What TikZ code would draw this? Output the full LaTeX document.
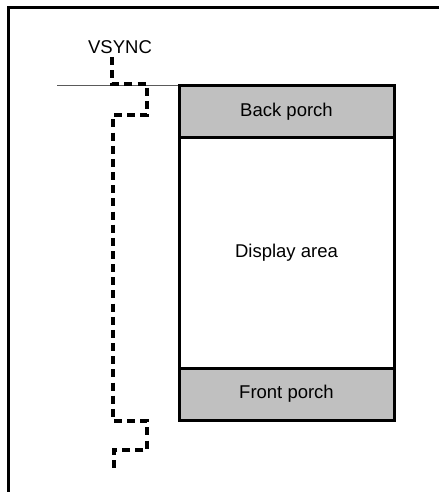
\documentclass[tikz,border=0pt]{standalone}
\usepackage{fontspec}
\setmainfont{Liberation Sans}
\usetikzlibrary{positioning,calc}
\definecolor{ink}{RGB}{0,0,0}
\definecolor{porch}{RGB}{192,192,192}
\definecolor{soft}{RGB}{90,90,90}

\begin{document}
\begin{tikzpicture}[
    x=1pt,y=-1pt,
    text=ink,
    every node/.style={font=\fontsize{18.5}{21}\selectfont},
    band/.style={
        draw=ink,
        line width=3pt,
        minimum width=215pt,
        inner sep=0pt,
        outer sep=0pt,
        align=center
    },
    porchbox/.style={band, fill=porch},
    sig/.style={draw=ink, line width=3.2pt, dash pattern=on 8pt off 5.15pt}
]
\useasboundingbox (0,0) rectangle (439,492);

% Frame
\draw[ink, line width=3pt] (8,492) -- (8,8) -- (439,8);

% Frame top line of the field
\draw[soft, line width=1pt] (57,86) -- (179,86);

% Vertical timing bands
\node[porchbox, minimum height=51pt, anchor=north west] (back) at (179,86) {Back porch};
\node[band, minimum height=231pt, below=0pt of back] (disp) {Display area};
\node[porchbox, minimum height=52pt, below=0pt of disp] (front) {Front porch};

% VSYNC signal
\node[anchor=south] (vsync) at (120,57) {VSYNC};
\coordinate (s0) at ($(vsync.south)+(-8,0)$);
\draw[sig] (s0) -- (112,84) -- (147,84) -- (147,115) -- (113,115)
    -- (113,421) -- (147,421) -- (147,450) -- (114,450) -- (114,468);

\end{tikzpicture}
\end{document}
